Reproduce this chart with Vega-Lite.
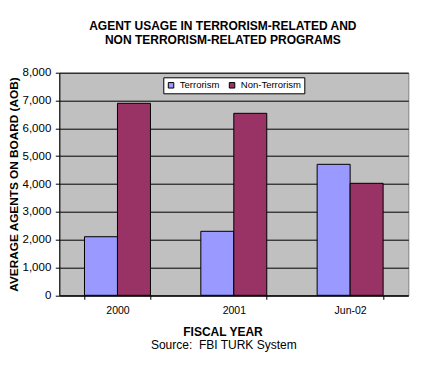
{
  "$schema": "https://vega.github.io/schema/vega-lite/v6.json",
  "width": 349,
  "height": 222.6,
  "autosize": {"type": "none"},
  "padding": {"left": 59.3, "top": 72.7, "right": 14.7, "bottom": 69.7},
  "background": "white",
  "title": {
    "text": ["AGENT USAGE IN TERRORISM-RELATED AND", "NON TERRORISM-RELATED PROGRAMS"],
    "font": "Liberation Sans",
    "fontSize": 12,
    "fontWeight": "bold",
    "color": "black",
    "anchor": "middle",
    "frame": "group",
    "dx": -11,
    "lineHeight": 13.5,
    "offset": 20
  },
  "config": {
    "view": {"fill": "#C0C0C0", "stroke": "#808080", "strokeWidth": 1},
    "font": "Liberation Sans"
  },
  "data": {
    "values": [
      {"year": "2000", "type": "Terrorism", "agents": 2105},
      {"year": "2000", "type": "Non-Terrorism", "agents": 6900},
      {"year": "2001", "type": "Terrorism", "agents": 2300},
      {"year": "2001", "type": "Non-Terrorism", "agents": 6540},
      {"year": "Jun-02", "type": "Terrorism", "agents": 4707},
      {"year": "Jun-02", "type": "Non-Terrorism", "agents": 4025}
    ]
  },
  "layer": [
    {
      "mark": {"type": "bar", "stroke": "black", "strokeWidth": 1, "opacity": 1},
      "encoding": {
        "x": {
          "field": "year",
          "type": "nominal",
          "sort": ["2000", "2001", "Jun-02"],
          "scale": {"paddingInner": 0.433, "paddingOuter": 0.2165},
          "axis": {
            "orient": "bottom",
            "labelAngle": 0,
            "labelFont": "Liberation Sans",
            "labelFontSize": 10.5,
            "labelColor": "black",
            "labelPadding": 6,
            "tickBand": "extent",
            "tickColor": "black",
            "tickSize": 4,
            "domainColor": "black",
            "title": "FISCAL YEAR",
            "titleFont": "Liberation Sans",
            "titleFontSize": 12,
            "titleFontWeight": "bold",
            "titleColor": "black",
            "titlePadding": 11,
            "titleX": 163.2
          }
        },
        "xOffset": {"field": "type", "type": "nominal", "sort": ["Terrorism", "Non-Terrorism"]},
        "y": {
          "field": "agents",
          "type": "quantitative",
          "scale": {"domain": [0, 8000], "nice": false},
          "axis": {
            "values": [0, 1000, 2000, 3000, 4000, 5000, 6000, 7000, 8000],
            "format": ",d",
            "labelOverlap": false,
            "labelFont": "Liberation Sans",
            "labelFontSize": 11.5,
            "labelColor": "black",
            "labelPadding": 4.5,
            "tickColor": "black",
            "tickSize": 4,
            "domainColor": "black",
            "gridColor": "black",
            "gridOpacity": 1,
            "grid": true,
            "title": "AVERAGE AGENTS ON BOARD (AOB)",
            "titleFont": "Liberation Sans",
            "titleFontSize": 11.8,
            "titleFontWeight": "bold",
            "titleColor": "black",
            "titlePadding": 2.5
          }
        },
        "color": {
          "field": "type",
          "type": "nominal",
          "scale": {"domain": ["Terrorism", "Non-Terrorism"], "range": ["#9999FF", "#993366"]},
          "legend": {
            "title": null,
            "orient": "none",
            "legendX": 104,
            "legendY": 4.6,
            "direction": "horizontal",
            "fillColor": "white",
            "strokeColor": "black",
            "padding": 3,
            "symbolType": "square",
            "symbolSize": 30,
            "symbolStrokeColor": "black",
            "symbolStrokeWidth": 1,
            "symbolOpacity": 1,
            "labelFont": "Liberation Sans",
            "labelFontSize": 9.5,
            "labelColor": "black",
            "labelOffset": 4,
            "columnPadding": 7
          }
        }
      }
    },
    {
      "mark": {"type": "bar", "opacity": 0},
      "encoding": {
        "x": {
          "field": "year",
          "type": "nominal",
          "sort": ["2000", "2001", "Jun-02"],
          "axis": {
            "orient": "bottom",
            "labels": false,
            "ticks": false,
            "domain": false,
            "grid": false,
            "title": "Source:\u00a0 FBI TURK System",
            "titleFont": "Liberation Sans",
            "titleFontSize": 12,
            "titleFontWeight": "normal",
            "titleColor": "black",
            "titlePadding": 44,
            "titleX": 164
          }
        }
      }
    }
  ],
  "resolve": {"axis": {"x": "independent"}}
}
